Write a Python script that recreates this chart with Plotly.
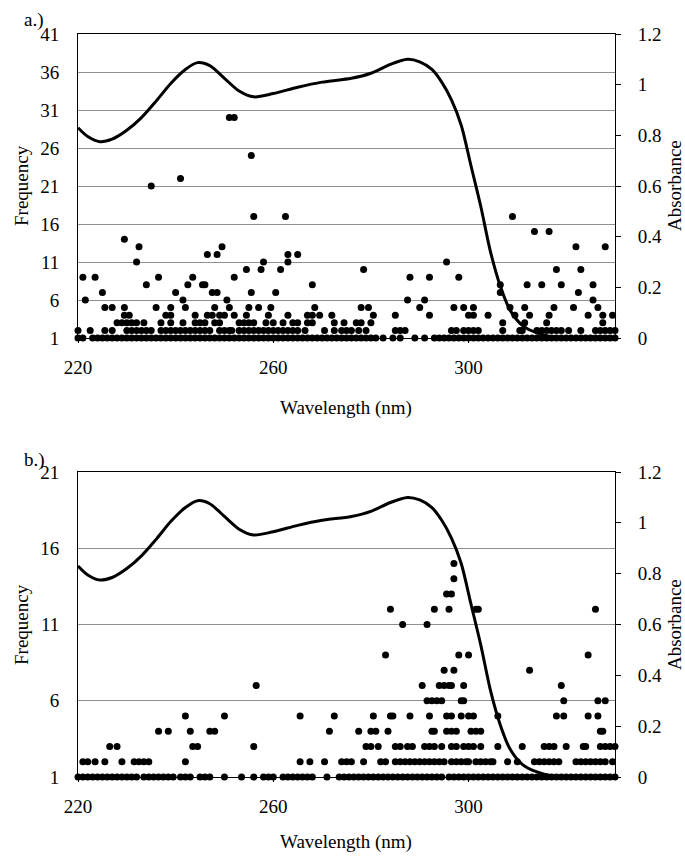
import plotly.graph_objects as go

# ---------------- data ----------------
WL_TICKS = [220, 260, 300]
FREQ_TICKS_A = [1, 6, 11, 16, 21, 26, 31, 36, 41]
FREQ_TICKS_B = [1, 6, 11, 16, 21]
ABS_TICKS = [0, 0.2, 0.4, 0.6, 0.8, 1.0, 1.2]

# absorbance spectrum (same in both panels)
ABS_WL = [220, 222, 224.5, 227, 230, 233, 236, 239, 242, 244.5, 247, 250, 253, 256,
          260, 265, 270, 276, 280, 284, 287.5, 290, 292.5, 294.5, 296.5, 298.5,
          300.5, 302.5, 304.5, 306.5, 308.5, 311, 314, 317, 320]
ABS_VAL = [0.83, 0.795, 0.775, 0.785, 0.82, 0.87, 0.935, 1.005, 1.06, 1.087, 1.075,
           1.025, 0.975, 0.952, 0.965, 0.99, 1.01, 1.025, 1.045, 1.08, 1.10, 1.09,
           1.06, 1.01, 0.94, 0.84, 0.68, 0.52, 0.34, 0.205, 0.11, 0.05, 0.02, 0.005, 0.0]

# panel a: wavelengths at which frequency = 1, 2, 3, 4
A_F1 = [220, 221, 223, 224, 225, 226, 227, 228, 229, 230, 231, 232, 233, 234, 235, 236,
        237, 238, 239, 240, 241, 242, 243, 244, 245, 246, 247, 248, 249, 250, 251, 252,
        253, 254, 255, 256, 257, 258, 259, 260, 261, 262, 263, 264, 265, 266, 267, 268,
        269, 270, 271, 272, 273, 274, 275, 276, 277, 278, 279, 280, 281, 282.5, 284.5,
        286, 289, 291, 293, 294, 295, 296, 297, 298, 299, 300, 301, 302, 303, 304, 305,
        306, 307, 308, 309, 310, 311, 312, 313, 314, 315, 316, 317, 318, 319, 320, 321,
        322, 323, 324, 325, 326, 327, 328, 329, 330]
A_F2 = [220, 222.5, 225.5, 227, 230, 231, 232, 233, 234, 235, 237, 238, 239, 240, 241,
        242, 243, 244, 245, 246, 247, 249, 250, 251, 251.5, 253, 254, 255, 256, 257, 258,
        259, 260, 261, 262, 263, 264, 265, 266.5, 270.5, 272.5, 274, 275, 276, 277.5,
        279, 285, 286, 287, 296.5, 297.5, 299, 300, 301, 302, 307, 310.5, 311, 314, 315,
        316, 317, 318, 319, 320.5, 323, 326, 327, 328, 329, 330]
A_F3 = [228, 229, 230, 231, 232, 233.5, 237, 239, 241.5, 244, 245, 246, 248, 249, 253,
        254, 255, 256, 258.5, 260, 262, 264, 265, 267, 268, 272.5, 274.5, 277, 278, 280,
        307, 311.5, 316, 327.5]
A_F4 = [229.5, 230.5, 238, 239, 244, 246.5, 247.5, 249, 250, 252, 254.5, 259, 263, 267,
        268, 269.5, 272, 280.5, 285, 292, 300, 301, 304, 309.5, 312.5, 316.5, 324.5,
        327.5, 329.5]
# panel a: sparse higher frequencies
A_HI_WL = [225.5, 227, 229.5, 236, 239, 242, 248, 251, 255, 257, 259.5, 268.5, 278,
           279.5, 290, 297, 299, 301, 308.5, 311.5, 317.5, 321.5, 326.5,
           221.5, 241.5, 250.5, 287.5, 291, 325.5,
           225, 240, 247.5, 248.5, 255.5, 260.5, 306.5, 322.5,
           234, 242.5, 245.5, 246, 268, 306.5, 312, 315, 319, 325.5,
           221, 223.5, 236.5, 243.5, 252, 288, 292, 298,
           254.5, 257.5, 261.5, 278.5, 318, 323,
           232, 258, 263, 295.5,
           246.5, 248.5, 263, 265,
           232.5, 249.5, 322, 328,
           229.5, 313.5, 316.5, 256, 262.5, 309, 235, 241, 255.5, 251, 252]
A_HI_FREQ = [5] * 23 + [6] * 6 + [7] * 8 + [8] * 10 + [9] * 8 + [10] * 6 + [11] * 4 + \
            [12] * 4 + [13] * 4 + [14, 15, 15, 17, 17, 17, 21, 22, 25, 30, 30]

# panel b
B_F1 = [220, 221, 222, 223, 224, 225, 226, 227, 228, 229, 230, 231, 232, 233.5, 234.5,
        235.5, 236.5, 237.5, 238.5, 239.5, 241, 242, 243, 245, 246, 247, 250, 253.5, 256,
        258, 259, 260, 262, 263, 264, 265, 266, 267, 268, 271, 273.5, 274.5, 275.5, 276.5,
        277.5, 278.5, 279.5, 280.5, 281.5, 282.5, 283.5, 284.5, 285.5, 286.5, 287.5,
        288.5, 289.5, 290.5, 291.5, 292.5, 293.5, 294.5, 296, 297, 298, 299, 300, 301,
        302, 303, 304, 305, 306, 307, 308, 309, 310, 311, 312, 313, 314, 315, 316, 317,
        318, 319, 320, 321, 322, 323, 324, 325, 326, 327, 328, 329, 330]
B_F2 = [221, 222, 223.5, 225.5, 229, 231.5, 232.5, 233.5, 234.5, 242, 265.5, 267.5,
        270.5, 274, 275, 276, 278.5, 282, 283, 285, 286, 287, 288, 289, 290, 291, 292,
        293, 294, 295, 296.5, 297.5, 298.5, 299.5, 300, 301.5, 302.5, 303.5, 304.5, 305,
        308, 310, 313.5, 314.5, 315.5, 316.5, 317.5, 318.5, 322, 323, 324, 325, 326, 327,
        328, 329.5]
B_F3 = [226.5, 228, 243.5, 244.5, 256, 279, 280, 281.5, 285, 286, 287.5, 288.5, 291,
        292, 293, 294.5, 296.5, 297.5, 299, 300, 301, 302.5, 306, 311, 315.5, 316.5,
        317.5, 320, 323.5, 324, 327, 328, 329, 330]
B_F4 = [236.5, 238.5, 243, 247, 248, 271.5, 277.5, 280, 281, 283.5, 292.5, 293, 295.5,
        296.5, 297.5, 300.5, 301.5, 302.5, 327, 327.5]
B_HI_WL = [242, 250, 265.5, 272.5, 280.5, 284, 284.5, 288, 292, 295.5, 296.5, 298.5,
           300, 301, 306, 318, 319.5, 324.5, 326.5,
           291.5, 292.5, 293.5, 294.5, 298.5, 299, 319.5, 326.5, 328,
           256.5, 290.5, 294, 295, 296, 296.5, 299, 319,
           295, 297, 312.5,
           283, 298, 300, 324.5,
           286.5, 291.5,
           284, 293, 296, 301.5, 302, 326,
           295.5, 296.5, 297, 297]
B_HI_FREQ = [5] * 19 + [6] * 9 + [7] * 8 + [8] * 3 + [9] * 4 + [11] * 2 + [12] * 6 + \
            [13, 13, 14, 15]

# ---------------- figure ----------------
W, H = 685, 856
FONT = "Liberation Serif"


def px(x):
    return x / W


def py(y):
    return 1 - y / H


def stack(f1, f2, f3, f4, hi_wl, hi_f):
    xs = list(f1) + list(f2) + list(f3) + list(f4) + list(hi_wl)
    ys = [1] * len(f1) + [2] * len(f2) + [3] * len(f3) + [4] * len(f4) + list(hi_f)
    return xs, ys


fig = go.Figure()

ax, ay = stack(A_F1, A_F2, A_F3, A_F4, A_HI_WL, A_HI_FREQ)
bx, by = stack(B_F1, B_F2, B_F3, B_F4, B_HI_WL, B_HI_FREQ)

mk = dict(color="black", size=7, line=dict(width=0))
ln = dict(color="black", width=3, shape="spline", smoothing=0.8)
fig.add_trace(go.Scatter(x=ax, y=ay, mode="markers", marker=mk, xaxis="x", yaxis="y",
                         cliponaxis=False, showlegend=False))
fig.add_trace(go.Scatter(x=ABS_WL, y=ABS_VAL, mode="lines", line=ln,
                         xaxis="x", yaxis="y2", cliponaxis=False, showlegend=False))
fig.add_trace(go.Scatter(x=bx, y=by, mode="markers", marker=mk, xaxis="x2", yaxis="y3",
                         cliponaxis=False, showlegend=False))
fig.add_trace(go.Scatter(x=ABS_WL, y=ABS_VAL, mode="lines", line=ln,
                         xaxis="x2", yaxis="y4", cliponaxis=False, showlegend=False))

xdom = [px(78), px(615)]
dom_a = [py(338), py(34)]
dom_b = [py(777), py(472)]
tf = dict(family=FONT, size=19, color="black")

xcommon = dict(domain=xdom, range=[220, 330], tickvals=WL_TICKS, ticks="outside", ticklen=4,
               tickcolor="black", showline=True, linecolor="black", linewidth=1, mirror=True,
               showgrid=False, zeroline=False, tickfont=tf, ticklabelstandoff=8,
               automargin=False)
ycommon = dict(showgrid=True, gridcolor="#8f8f8f", gridwidth=1, showline=True, linecolor="black",
               linewidth=1, ticks="", zeroline=False, tickfont=tf, ticklabelstandoff=14,
               automargin=False)
rcommon = dict(side="right", range=[0, 1.2], tickvals=ABS_TICKS, ticks="outside", ticklen=5,
               tickcolor="black", showgrid=False, showline=True, linecolor="black", linewidth=1,
               zeroline=False, tickfont=tf, ticklabelstandoff=13, automargin=False)
# inner half of the cross-style tick marks on the absorbance axis
rinner = dict(side="right", range=[0, 1.2], tickvals=ABS_TICKS, ticks="inside", ticklen=5,
              tickcolor="black", showgrid=False, showline=False, zeroline=False,
              showticklabels=False, automargin=False)

fig.update_layout(
    width=W, height=H,
    margin=dict(l=0, r=0, t=0, b=0, autoexpand=False),
    paper_bgcolor="white", plot_bgcolor="white",
    showlegend=False,
    xaxis=dict(anchor="y", **xcommon),
    yaxis=dict(domain=dom_a, range=[1, 41], tickvals=FREQ_TICKS_A, anchor="x", **ycommon),
    yaxis2=dict(overlaying="y", anchor="x", **rcommon),
    yaxis5=dict(overlaying="y", anchor="x", **rinner),
    xaxis2=dict(anchor="y3", **xcommon),
    yaxis3=dict(domain=dom_b, range=[1, 21], tickvals=FREQ_TICKS_B, anchor="x2", **ycommon),
    yaxis4=dict(overlaying="y3", anchor="x2", **rcommon),
    yaxis6=dict(overlaying="y3", anchor="x2", **rinner),
)

af = dict(family=FONT, size=19, color="black")
ann = [
    dict(text="a.)", x=px(34), y=py(20)),
    dict(text="b.)", x=px(34), y=py(460)),
    dict(text="Wavelength (nm)", x=px(346), y=py(408)),
    dict(text="Wavelength (nm)", x=px(346), y=py(842)),
    dict(text="Frequency", x=px(21), y=py(186), textangle=-90),
    dict(text="Absorbance", x=px(674), y=py(186), textangle=-90),
    dict(text="Frequency", x=px(21), y=py(625), textangle=-90),
    dict(text="Absorbance", x=px(674), y=py(625), textangle=-90),
]
for a in ann:
    fig.add_annotation(xref="paper", yref="paper", showarrow=False, font=af,
                       xanchor="center", yanchor="middle", **a)

fig.write_html("out.html", config={"displayModeBar": False},
               post_script="document.body.style.margin='0px';document.body.style.overflow='hidden';")
